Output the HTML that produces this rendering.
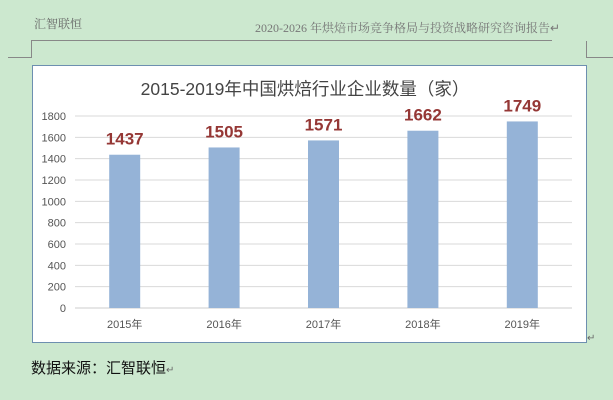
<!DOCTYPE html>
<html><head><meta charset="utf-8"><style>
body{margin:0;width:613px;height:400px;background:#cce8cf;position:relative;overflow:hidden;font-family:"Liberation Sans","Noto Sans CJK SC",sans-serif}
.abs{position:absolute}
</style></head><body>
<div class="abs" style="left:34px;top:15px;font-size:12px;color:#666;font-family:'Liberation Serif','Noto Serif CJK SC',serif">汇智联恒</div>
<div class="abs" style="left:255px;top:19px;font-size:12px;color:#777;font-family:'Liberation Serif','Noto Serif CJK SC',serif;white-space:nowrap">2020-2026 年烘焙市场竞争格局与投资战略研究咨询报告↵</div>
<div class="abs" style="left:31px;top:40px;width:521px;height:1px;background:#888"></div>
<div class="abs" style="left:31px;top:40px;width:1px;height:17px;background:#888"></div>
<div class="abs" style="left:8px;top:57px;width:24px;height:1px;background:#888"></div>
<div class="abs" style="left:586px;top:41px;width:1px;height:16px;background:#888"></div>
<div class="abs" style="left:586px;top:57px;width:27px;height:1px;background:#888"></div>
<svg class="abs" style="left:0;top:0" width="613" height="400">
<rect x="32.5" y="65.5" width="554" height="277" fill="#fff" stroke="#6d8fb0"/>
<text x="305" y="95" text-anchor="middle" font-size="17.5" fill="#444">2015-2019年中国烘焙行业企业数量（家）</text>
<g id="grid"></g><g id="bars"></g>
</svg>
<div class="abs" style="left:31px;top:357px;font-size:15px;color:#111">数据来源：汇智联恒<span style="font-size:10px;color:#666">↵</span></div>
<div class="abs" style="left:587px;top:333px;font-size:10px;color:#666">↵</div>
<script>
const categories=["2015年","2016年","2017年","2018年","2019年"];
const values=[1437,1505,1571,1662,1749];
const ticks=[0,200,400,600,800,1000,1200,1400,1600,1800];
const NS="http://www.w3.org/2000/svg";
const x0=75,x1=572,y0=308,ymax=1800,ytop=116;
const y=v=>y0-(v/ymax)*(y0-ytop);
const bw=(x1-x0)/categories.length;
const xc=i=>x0+bw*(i+0.5);
const g=document.getElementById('grid'),b=document.getElementById('bars');
function mk(t,a,p,txt){const e=document.createElementNS(NS,t);for(const k in a)e.setAttribute(k,a[k]);if(txt!=null)e.textContent=txt;p.appendChild(e);return e;}
ticks.forEach(t=>{
 const l=mk('line',{x1:x0,x2:x1,y1:y(t),y2:y(t),stroke:t===0?'#ccc':'#d9d9d9','stroke-width':1},g);
 
 
 const tx=mk('text',{x:66,y:y(t)+4,'text-anchor':'end','font-size':11,fill:'#555'},g,t);
 
 
});
categories.forEach((c,i)=>{
 const r=mk('rect',{x:xc(i)-15.5,y:y(values[i]),width:31,height:y0-y(values[i]),fill:'#95b3d7'},b);
 
 
 const v=mk('text',{x:xc(i),y:y(values[i])-10,'text-anchor':'middle','font-size':17,'font-weight':'bold',fill:'#953735'},b,values[i]);
 
 
 const cl=mk('text',{x:xc(i),y:328,'text-anchor':'middle','font-size':11,fill:'#555'},b,c);
 
 
});
</script>
</body></html>
